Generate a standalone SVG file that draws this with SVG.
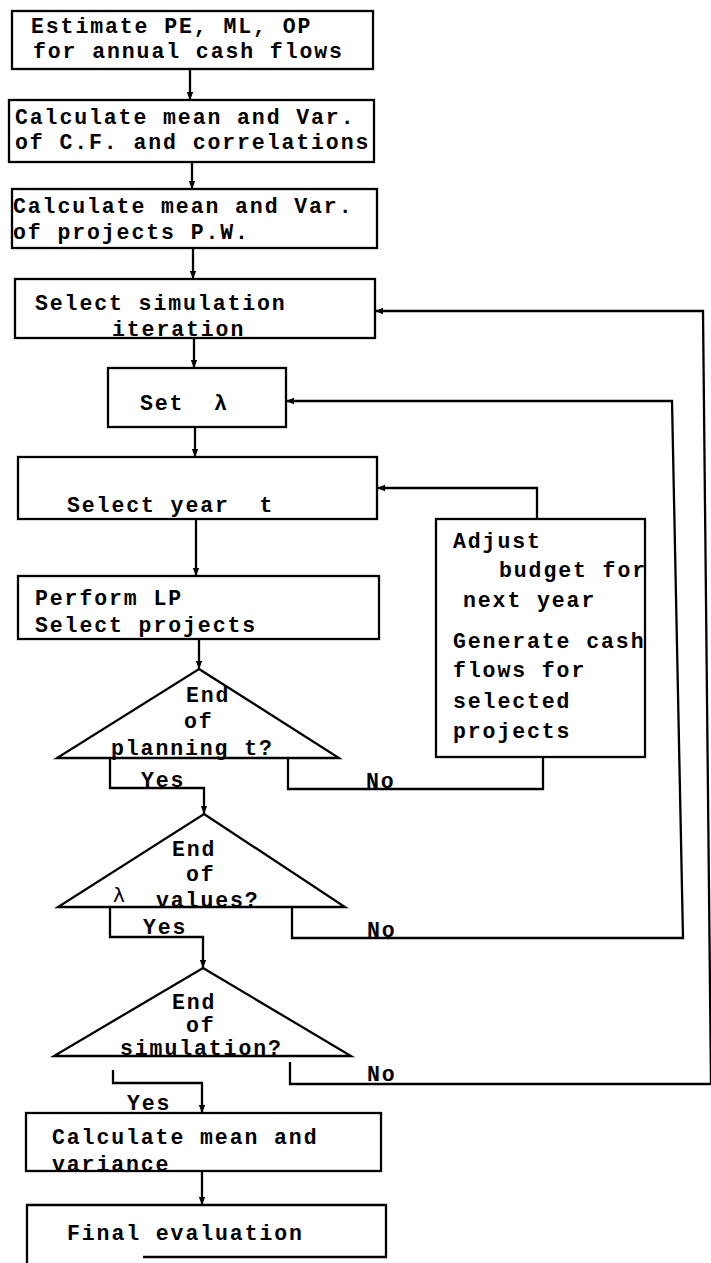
<svg xmlns="http://www.w3.org/2000/svg" width="711" height="1263" viewBox="0 0 711 1263">
<style>
.bx{fill:none;stroke:#000;stroke-width:2.3}
.ln{fill:none;stroke:#000;stroke-width:2.3}
.t{font-family:"Liberation Mono","DejaVu Sans Mono",monospace;font-size:21.5px;letter-spacing:1.9px;font-weight:bold;fill:#000}
.lam{font-family:"DejaVu Sans","Liberation Sans",sans-serif;font-size:20px;fill:#000}
</style>
<defs>
<marker id="arr" viewBox="0 0 10 10" refX="10" refY="5" markerWidth="8" markerHeight="8" orient="auto" markerUnits="userSpaceOnUse"><path d="M0,1 L10,5 L0,9 z" fill="#000"/></marker>
</defs>
<rect width="711" height="1263" fill="#fff"/>
<g id="connectors">
<path class="ln" d="M190 69 V100" marker-end="url(#arr)"/>
<path class="ln" d="M192 162 V189" marker-end="url(#arr)"/>
<path class="ln" d="M193 248 V279" marker-end="url(#arr)"/>
<path class="ln" d="M194 338 V368" marker-end="url(#arr)"/>
<path class="ln" d="M195 427 V457" marker-end="url(#arr)"/>
<path class="ln" d="M196 519 V576" marker-end="url(#arr)"/>
<path class="ln" d="M199 639 V669" marker-end="url(#arr)"/>
<path class="ln" d="M110 758 V788 H204 V814" marker-end="url(#arr)"/>
<path class="ln" d="M288 758 V789 H543 V757"/>
<path class="ln" d="M537 519 V488 H377" marker-end="url(#arr)"/>
<path class="ln" d="M110 907 V937 H203 V968" marker-end="url(#arr)"/>
<path class="ln" d="M292 907 V938 H683 L672 401 H286" marker-end="url(#arr)"/>
<path class="ln" d="M113 1070 V1083 H202 V1113" marker-end="url(#arr)"/>
<path class="ln" d="M290 1062 V1084 H711 L703 311 H375" marker-end="url(#arr)"/>
<path class="ln" d="M202 1171 V1205" marker-end="url(#arr)"/>
</g>
<g id="n1"><rect class="bx" x="12" y="11" width="361" height="58"/>
<text class="t" x="31" y="33">Estimate PE, ML, OP</text>
<text class="t" x="33" y="58">for annual cash flows</text></g>
<g id="n2"><rect class="bx" x="9" y="100" width="365" height="62"/>
<text class="t" x="15" y="124">Calculate mean and Var.</text>
<text class="t" x="15" y="149">of C.F. and correlations</text></g>
<g id="n3"><rect class="bx" x="12" y="189" width="365" height="59"/>
<text class="t" x="13" y="213">Calculate mean and Var.</text>
<text class="t" x="13" y="239">of projects P.W.</text></g>
<g id="n4"><rect class="bx" x="15" y="279" width="360" height="59"/>
<text class="t" x="35" y="310">Select simulation</text>
<text class="t" x="112" y="336">iteration</text></g>
<g id="n5"><rect class="bx" x="108" y="368" width="178" height="59"/>
<text class="t" x="140" y="410" xml:space="preserve">Set  λ</text></g>
<g id="n6"><rect class="bx" x="18" y="457" width="359" height="62"/>
<text class="t" x="67" y="512" xml:space="preserve">Select year  t</text></g>
<g id="n7"><rect class="bx" x="18" y="576" width="361" height="63"/>
<text class="t" x="35" y="605">Perform LP</text>
<text class="t" x="35" y="632">Select projects</text></g>
<g id="n8"><rect class="bx" x="436" y="519" width="209" height="238"/>
<text class="t" x="453" y="548">Adjust</text>
<text class="t" x="499" y="577">budget for</text>
<text class="t" x="463" y="607">next year</text>
<text class="t" x="453" y="648">Generate cash</text>
<text class="t" x="453" y="677">flows for</text>
<text class="t" x="453" y="708">selected</text>
<text class="t" x="453" y="738">projects</text></g>
<g id="d1"><polygon class="bx" points="199,669 339,758 57,758"/>
<text class="t" x="186" y="702">End</text>
<text class="t" x="184" y="728">of</text>
<text class="t" x="111" y="755">planning t?</text></g>
<g id="d2"><polygon class="bx" points="204,814 345,907 58,907"/>
<text class="t" x="172" y="856">End</text>
<text class="t" x="186" y="881">of</text>
<text class="lam" x="113" y="902">λ</text>
<text class="t" x="156" y="907">values?</text></g>
<g id="d3"><polygon class="bx" points="203,968 351,1056 54,1056"/>
<text class="t" x="172" y="1009">End</text>
<text class="t" x="186" y="1032">of</text>
<text class="t" x="120" y="1055">simulation?</text></g>
<g id="labels">
<text class="t" x="141" y="787">Yes</text>
<text class="t" x="366" y="788">No</text>
<text class="t" x="143" y="934">Yes</text>
<text class="t" x="367" y="937">No</text>
<text class="t" x="127" y="1110">Yes</text>
<text class="t" x="367" y="1081">No</text>
</g>
<g id="n9"><rect class="bx" x="26" y="1113" width="355" height="58"/>
<text class="t" x="52" y="1144">Calculate mean and</text>
<text class="t" x="52" y="1171">variance</text></g>
<g id="n10"><path class="bx" d="M27 1263 V1205 H386 V1257 H143"/>
<text class="t" x="67" y="1240">Final evaluation</text></g>
</svg>
